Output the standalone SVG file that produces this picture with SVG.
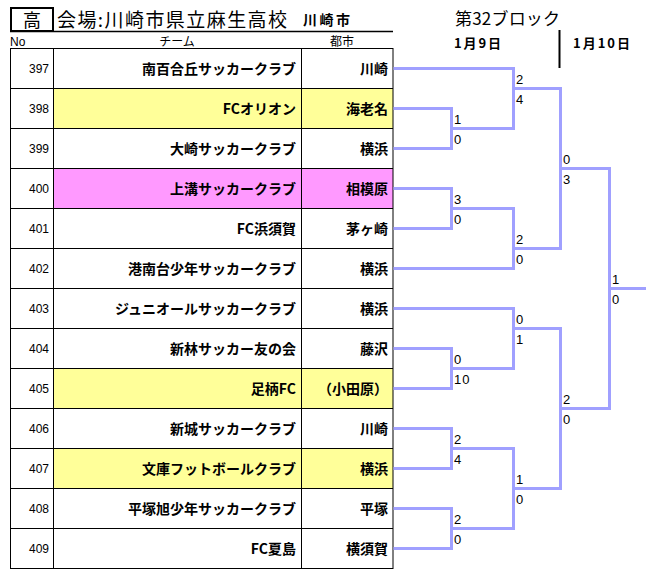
<svg xmlns="http://www.w3.org/2000/svg" width="646" height="574" viewBox="0 0 646 574">
<style>
.jp{font-family:"Noto Sans CJK JP","Liberation Sans",sans-serif;fill:#000}
.team{font-size:14px;font-weight:bold;text-anchor:end}
.no{font-family:"Liberation Sans",sans-serif;font-size:12px;text-anchor:end;fill:#000}
.sc{font-family:"Liberation Sans",sans-serif;font-size:13px;letter-spacing:1px;fill:#000}
.cell{stroke:#000;stroke-width:1}
.br{fill:none;stroke:#A0A0FF;stroke-width:3;stroke-linecap:square}
</style>
<rect width="646" height="574" fill="#fff"/>
<g id="title">
<rect x="11" y="8" width="42" height="23" fill="none" stroke="#000" stroke-width="2"/>
<text class="jp" x="32" y="27" font-size="18" text-anchor="middle">高</text>
<text class="jp" x="57" y="27" font-size="19" textLength="230" lengthAdjust="spacing">会場:川崎市県立麻生高校</text>
<text class="jp" x="303" y="25" font-size="14" font-weight="bold" textLength="47" lengthAdjust="spacing">川崎市</text>
<line x1="10" y1="31.5" x2="393" y2="31.5" stroke="#000" stroke-width="1.5"/>
<text class="jp" x="455" y="25" font-size="17" textLength="105" lengthAdjust="spacing">第32ブロック</text>
<text class="jp" x="454" y="48" font-size="13" font-weight="bold" textLength="47" lengthAdjust="spacing">1月9日</text>
<text class="jp" x="573" y="48" font-size="13" font-weight="bold" textLength="57" lengthAdjust="spacing">1月10日</text>
<line x1="559.5" y1="30" x2="559.5" y2="68" stroke="#000" stroke-width="2"/>
</g>
<g id="header">
<text x="10" y="46" font-family="Liberation Sans, sans-serif" font-size="12">No</text>
<text class="jp" x="177" y="46" font-size="12" text-anchor="middle">チーム</text>
<text class="jp" x="342" y="46" font-size="12" text-anchor="middle">都市</text>
</g>
<g id="table">
<rect x="53" y="88" width="340" height="40" fill="#FFFF99"/>
<rect x="53" y="168" width="340" height="40" fill="#FF99FF"/>
<rect x="53" y="368" width="340" height="40" fill="#FFFF99"/>
<rect x="53" y="448" width="340" height="40" fill="#FFFF99"/>
<rect class="cell" x="10.5" y="48.5" width="382.5" height="520" fill="none"/>
<path class="cell" fill="none" d="M53.5 48.5V568.5M301.5 48.5V568.5M10.5 88.5H393M10.5 128.5H393M10.5 168.5H393M10.5 208.5H393M10.5 248.5H393M10.5 288.5H393M10.5 328.5H393M10.5 368.5H393M10.5 408.5H393M10.5 448.5H393M10.5 488.5H393M10.5 528.5H393"/>
</g>
<g id="team-397"><text class="no" x="49" y="73">397</text><text class="jp team" x="296" y="74">南百合丘サッカークラブ</text><text class="jp team" x="388" y="74">川崎</text></g>
<g id="team-398"><text class="no" x="49" y="113">398</text><text class="jp team" x="296" y="114">FCオリオン</text><text class="jp team" x="388" y="114">海老名</text></g>
<g id="team-399"><text class="no" x="49" y="153">399</text><text class="jp team" x="296" y="154">大崎サッカークラブ</text><text class="jp team" x="388" y="154">横浜</text></g>
<g id="team-400"><text class="no" x="49" y="193">400</text><text class="jp team" x="296" y="194">上溝サッカークラブ</text><text class="jp team" x="388" y="194">相模原</text></g>
<g id="team-401"><text class="no" x="49" y="233">401</text><text class="jp team" x="296" y="234">FC浜須賀</text><text class="jp team" x="388" y="234">茅ヶ崎</text></g>
<g id="team-402"><text class="no" x="49" y="273">402</text><text class="jp team" x="296" y="274">港南台少年サッカークラブ</text><text class="jp team" x="388" y="274">横浜</text></g>
<g id="team-403"><text class="no" x="49" y="313">403</text><text class="jp team" x="296" y="314">ジュニオールサッカークラブ</text><text class="jp team" x="388" y="314">横浜</text></g>
<g id="team-404"><text class="no" x="49" y="353">404</text><text class="jp team" x="296" y="354">新林サッカー友の会</text><text class="jp team" x="388" y="354">藤沢</text></g>
<g id="team-405"><text class="no" x="49" y="393">405</text><text class="jp team" x="296" y="394">足柄FC</text><text class="jp team" x="388" y="394">（小田原）</text></g>
<g id="team-406"><text class="no" x="49" y="433">406</text><text class="jp team" x="296" y="434">新城サッカークラブ</text><text class="jp team" x="388" y="434">川崎</text></g>
<g id="team-407"><text class="no" x="49" y="473">407</text><text class="jp team" x="296" y="474">文庫フットボールクラブ</text><text class="jp team" x="388" y="474">横浜</text></g>
<g id="team-408"><text class="no" x="49" y="513">408</text><text class="jp team" x="296" y="514">平塚旭少年サッカークラブ</text><text class="jp team" x="388" y="514">平塚</text></g>
<g id="team-409"><text class="no" x="49" y="553">409</text><text class="jp team" x="296" y="554">FC夏島</text><text class="jp team" x="388" y="554">横須賀</text></g>
<g id="connectors">
<path class="br" d="M395 108.5H451.5V148.5H395M451.5 128.5H513.5"/>
<path class="br" d="M395 68.5H513.5V128.5M513.5 88.5H560.5"/>
<path class="br" d="M395 188.5H451.5V228.5H395M451.5 208.5H513.5"/>
<path class="br" d="M395 268.5H513.5V208.5M513.5 248.5H560.5"/>
<path class="br" d="M560.5 88.5V248.5M560.5 168.5H609.5"/>
<path class="br" d="M395 348.5H451.5V388.5H395M451.5 368.5H513.5"/>
<path class="br" d="M395 308.5H513.5V368.5M513.5 328.5H560.5"/>
<path class="br" d="M395 428.5H451.5V468.5H395M451.5 448.5H513.5"/>
<path class="br" d="M395 508.5H451.5V548.5H395M451.5 528.5H513.5"/>
<path class="br" d="M513.5 448.5V528.5M513.5 488.5H560.5"/>
<path class="br" d="M560.5 328.5V488.5M560.5 408.5H609.5"/>
<path class="br" d="M609.5 168.5V408.5M609.5 288.5H648"/>
</g>
<g id="scores">
<text class="sc" x="454" y="124">1</text><text class="sc" x="454" y="144">0</text>
<text class="sc" x="454" y="204">3</text><text class="sc" x="454" y="224">0</text>
<text class="sc" x="454" y="364">0</text><text class="sc" x="454" y="384">10</text>
<text class="sc" x="454" y="444">2</text><text class="sc" x="454" y="464">4</text>
<text class="sc" x="454" y="524">2</text><text class="sc" x="454" y="544">0</text>
<text class="sc" x="516" y="84">2</text><text class="sc" x="516" y="104">4</text>
<text class="sc" x="516" y="244">2</text><text class="sc" x="516" y="264">0</text>
<text class="sc" x="516" y="324">0</text><text class="sc" x="516" y="344">1</text>
<text class="sc" x="516" y="484">1</text><text class="sc" x="516" y="504">0</text>
<text class="sc" x="563" y="164">0</text><text class="sc" x="563" y="184">3</text>
<text class="sc" x="563" y="404">2</text><text class="sc" x="563" y="424">0</text>
<text class="sc" x="612" y="284">1</text><text class="sc" x="612" y="304">0</text>
</g>
</svg>
